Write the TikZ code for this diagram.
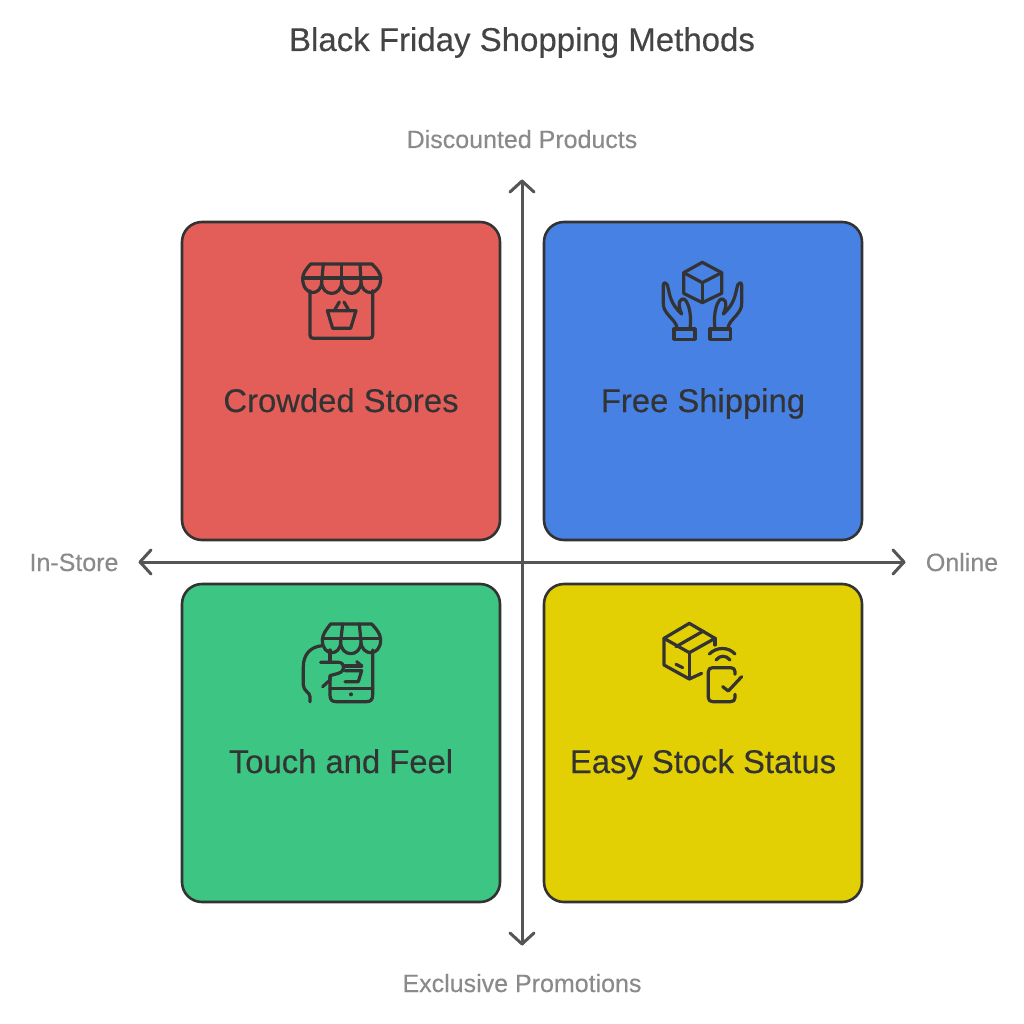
\documentclass[tikz,border=0pt]{standalone}
\usepackage{fontspec}
\setmainfont{Liberation Sans}
\newfontfamily\heavyface[FakeBold=0.25]{Liberation Sans}
\usetikzlibrary{arrows.meta}
\definecolor{ink}{HTML}{333333}
\definecolor{axisgrey}{HTML}{555555}
\definecolor{labelgrey}{HTML}{8A8A8A}
\definecolor{titlegrey}{HTML}{444444}
\definecolor{cred}{HTML}{E45E59}
\definecolor{cblue}{HTML}{4781E3}
\definecolor{cgreen}{HTML}{3CC583}
\definecolor{cyellow}{HTML}{E2CF04}
\tikzset{
  quad/.style={draw=ink,line width=2.6pt,rounded corners=20pt,minimum width=318pt,minimum height=318pt,inner sep=0pt,fill=#1},
  quadtext/.style={text=ink,font=\heavyface\fontsize{32.8}{36}\selectfont,inner sep=0pt,anchor=base},
  axislabel/.style={text=labelgrey,font=\heavyface\fontsize{25}{28}\selectfont,inner sep=0pt,anchor=base},
  axisline/.style={draw=axisgrey,line width=3pt,line cap=round,line join=round},
  tip/.style={draw=axisgrey,line width=3pt,line cap=round,line join=round},
  glyph/.style={x=0.3333pt,y=-0.3333pt,draw=ink,line width=3.2pt,line cap=round,line join=round},
}
\begin{document}
\begin{tikzpicture}[x=1pt,y=-1pt]
\useasboundingbox[fill=white] (0,0) rectangle (1024,1024);

% title
\node[text=titlegrey,font=\heavyface\fontsize{33}{36}\selectfont,inner sep=0pt,anchor=base] (title) at (522,51) {Black Friday Shopping Methods};

% quadrants
\node[quad=cred]    (red)    at (341,381) {};
\node[quad=cblue]   (blue)   at (703,381) {};
\node[quad=cgreen]  (green)  at (341,743) {};
\node[quad=cyellow] (yellow) at (703,743) {};

\node[quadtext] (redtext)    at (341,412) {Crowded Stores};
\node[quadtext] (bluetext)   at (703,412) {Free Shipping};
\node[quadtext] (greentext)  at (341,773) {Touch and Feel};
\node[quadtext] (yellowtext) at (703,773) {Easy Stock Status};

% axis labels
\node[axislabel] (top)    at (522,148) {Discounted Products};
\node[axislabel] (bottom) at (522,992) {Exclusive Promotions};
\node[axislabel] (left)   at (74,571)  {In-Store};
\node[axislabel] (right)  at (962,571) {Online};

% axes with open chevron heads
\coordinate (n) at (522,181);
\coordinate (s) at (522,944);
\coordinate (w) at (140,562);
\coordinate (e) at (904,562);
\draw[axisline] (n) -- (s);
\draw[axisline] (w) -- (e);
\draw[tip] (510,192) -- (n) -- (534,192);
\draw[tip] (510,933) -- (s) -- (534,933);
\draw[tip] (151,550) -- (w) -- (151,574);
\draw[tip] (893,550) -- (e) -- (893,574);

% storefront with basket
\begin{scope}[shift={(280,240)},glyph]
  \draw (92,72) -- (276,72) .. controls (290,85) and (302,100) .. (302,115)
     .. controls (302,170) and (245,170) .. (243,125)
     .. controls (243,172) and (185,172) .. (185,125)
     .. controls (185,172) and (125,172) .. (125,125)
     .. controls (125,170) and (68,170) .. (68,115)
     .. controls (68,100) and (80,85) .. (92,72) -- cycle;
  \draw (68,114) -- (302,114);
  \draw (130,72) -- (125,125);
  \draw (185,72) -- (185,125);
  \draw (240,72) -- (243,125);
  \draw (90,152) -- (90,285) .. controls (90,292) and (93,295) .. (100,295)
     -- (268,295) .. controls (275,295) and (278,292) .. (278,285) -- (278,152);
  \draw (142,212) -- (228,212) -- (212,265) -- (158,265) -- cycle;
  \draw (165,208) -- (178,186);
  \draw (205,208) -- (192,186);
\end{scope}

% parcel held between two hands
\begin{scope}[shift={(640,240)},glyph]
  \draw (187,67) -- (245,98) -- (245,160) -- (187,188) -- (131,160) -- (131,98) -- cycle;
  \draw (131,98) -- (187,128) -- (245,98);
  \draw (187,128) -- (187,188);
  \draw (102,267) rectangle (165,298);
  \draw (272,267) rectangle (210,298);
  \draw (112,267) .. controls (110,250) and (98,240) .. (85,225)
     .. controls (75,212) and (70,205) .. (70,190) -- (70,135)
     .. controls (70,125) and (80,128) .. (82,135)
     .. controls (90,165) and (90,190) .. (125,222)
     .. controls (118,205) and (112,185) .. (125,178)
     .. controls (135,172) and (142,188) .. (146,200)
     .. controls (152,220) and (153,240) .. (150,267);
  \draw (263,267) .. controls (265,250) and (277,240) .. (290,225)
     .. controls (300,212) and (305,205) .. (305,190) -- (305,135)
     .. controls (305,125) and (295,128) .. (293,135)
     .. controls (285,165) and (285,190) .. (250,222)
     .. controls (257,205) and (263,185) .. (250,178)
     .. controls (240,172) and (233,188) .. (229,200)
     .. controls (223,220) and (222,240) .. (225,267);
\end{scope}

% hand holding a phone under an awning
\begin{scope}[shift={(280,605)},glyph]
  \draw (152,57) -- (275,57) .. controls (290,72) and (302,88) .. (302,105)
     .. controls (302,155) and (245,155) .. (243,110)
     .. controls (243,158) and (182,158) .. (182,110)
     .. controls (182,155) and (127,155) .. (127,105)
     .. controls (127,88) and (140,72) .. (152,57) -- cycle;
  \draw (127,100) -- (302,100);
  \draw (188,57) -- (182,110);
  \draw (238,57) -- (243,110);
  \draw (278,135) -- (278,270) .. controls (278,284) and (272,290) .. (260,290)
     -- (168,290) .. controls (156,290) and (150,284) .. (150,270) -- (150,215);
  \draw (150,135) -- (150,168);
  \draw (150,250) -- (278,250);
  \fill[ink] (213,268) circle (6);
  \draw (127,122) .. controls (90,125) and (70,150) .. (70,185) -- (70,240)
     .. controls (70,258) and (90,262) .. (90,275) -- (90,290);
  \draw (122,172) -- (175,172) .. controls (195,172) and (198,198) .. (175,205)
     -- (150,212) -- (150,225) -- (128,245);
  \draw (195,197) -- (245,197) -- (235,230) -- (195,230);
  \draw (195,183) -- (245,183);
  \draw (230,170) -- (245,183);
\end{scope}

% carton with wireless tablet check
\begin{scope}[shift={(640,605)},glyph]
  \draw (148,55) -- (225,100) -- (148,143) -- (72,100) -- cycle;
  \draw (72,100) -- (72,180) -- (148,222) -- (185,205);
  \draw (148,143) -- (148,222);
  \draw (225,100) -- (225,120);
  \draw (108,125) -- (190,78);
  \draw (108,178) -- (128,188);
  \draw (208,147) .. controls (230,125) and (265,125) .. (285,147);
  \draw (228,165) .. controls (240,150) and (258,150) .. (270,165);
  \draw (285,208) -- (285,200) .. controls (285,192) and (280,188) .. (272,188)
     -- (218,188) .. controls (210,188) and (205,192) .. (205,200)
     -- (205,278) .. controls (205,286) and (210,290) .. (218,290)
     -- (272,290) .. controls (280,290) and (285,286) .. (285,278) -- (285,268);
  \draw (248,245) -- (265,258) -- (305,215);
\end{scope}
\end{tikzpicture}
\end{document}
